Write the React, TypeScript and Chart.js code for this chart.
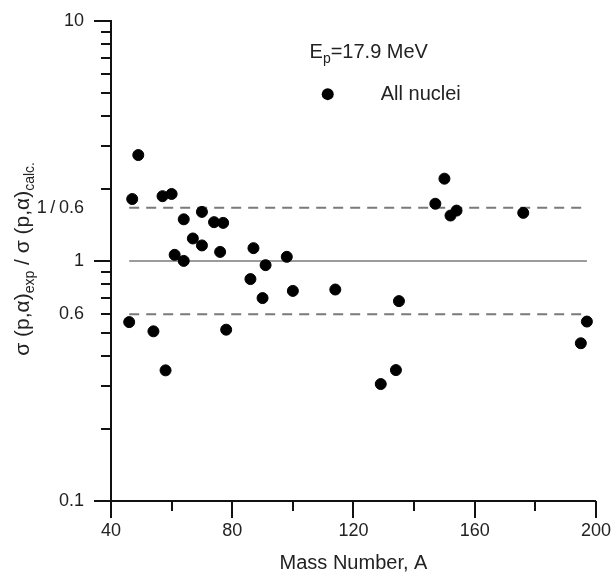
import React, { useEffect, useRef } from "react";
import { Chart, registerables } from "chart.js";

Chart.register(...registerables);

// ---- data ----
const massNumbers = [49, 47, 57, 60, 70, 64, 74, 77, 67, 70, 76, 61, 64, 87, 91, 98, 86, 90, 100, 46, 54, 78, 58, 114, 135, 129, 134, 150, 147, 152, 154, 176, 197, 195];
const ratios = [2.76, 1.81, 1.86, 1.9, 1.6, 1.49, 1.45, 1.44, 1.24, 1.16, 1.09, 1.06, 1.0, 1.13, 0.96, 1.04, 0.84, 0.7, 0.75, 0.556, 0.509, 0.517, 0.35, 0.76, 0.68, 0.307, 0.351, 2.2, 1.73, 1.545, 1.62, 1.585, 0.559, 0.454];

const lowerLimit = 0.6;
const upperLimit = 1 / 0.6;
const unity = 1;
const refLineRange = [46, 197];

const xTickValues = [40, 80, 120, 160, 200];
const yTickValues = [0.1, 0.6, 1, 1 / 0.6, 10];
const yTickLabels = ["0.1", "0.6", "1", "1\u2009/\u20090.6", "10"];

const xTitle = "Mass Number, A";
const energyLabel = { main: "E", sub: "p", rest: "=17.9 MeV", x: 105.5, y: 7.4 };
const legendLabel = { text: "All nuclei", x: 111.5, y: 4.95 };

const FONT = "'Liberation Sans', Arial, sans-serif";
const TEXT = "#222";

const overlayPlugin = {
  id: "overlay",
  afterDraw(chart: any) {
    const { ctx, chartArea, scales } = chart;
    const x = scales.x;
    const y = scales.y;
    ctx.save();
    // tick marks
    ctx.strokeStyle = "#111";
    ctx.lineWidth = 2;
    const xMin = x.min, xMax = x.max;
    for (let v = xMin; v <= xMax + 0.001; v += 20) {
      const px = Math.round(x.getPixelForValue(v));
      const len = (v - xMin) % 40 === 0 ? 17 : 10;
      ctx.beginPath();
      ctx.moveTo(px, chartArea.bottom);
      ctx.lineTo(px, chartArea.bottom + len);
      ctx.stroke();
    }
    for (let dec = y.min; dec < y.max * 0.999; dec *= 10) {
      for (let m = 1; m <= 9; m++) {
        const v = m * dec;
        const py = Math.round(y.getPixelForValue(v));
        const len = m === 1 ? 17 : 10;
        ctx.beginPath();
        ctx.moveTo(chartArea.left, py);
        ctx.lineTo(chartArea.left - len, py);
        ctx.stroke();
      }
    }
    {
      const py = Math.round(y.getPixelForValue(y.max));
      ctx.beginPath();
      ctx.moveTo(chartArea.left, py);
      ctx.lineTo(chartArea.left - 17, py);
      ctx.stroke();
    }

    ctx.fillStyle = TEXT;
    ctx.textBaseline = "middle";
    ctx.textAlign = "left";
    const big = 20;
    const small = 14;

    // y-axis title with subscripts (rotated)
    const segs: [string, boolean][] = [
      ["\u03c3 (p,\u03b1)", false],
      ["exp", true],
      [" / \u03c3 (p,\u03b1)", false],
      ["calc.", true],
    ];
    const tBig = 21;
    let total = 0;
    for (const [t, s] of segs) {
      ctx.font = `${s ? small : tBig}px ${FONT}`;
      total += ctx.measureText(t).width;
    }
    ctx.save();
    ctx.translate(23, (chartArea.top + chartArea.bottom) / 2 - 2);
    ctx.rotate(-Math.PI / 2);
    let cx = -total / 2;
    for (const [t, s] of segs) {
      ctx.font = `${s ? small : tBig}px ${FONT}`;
      ctx.fillText(t, cx, s ? 7 : 0);
      cx += ctx.measureText(t).width;
    }
    ctx.restore();

    // energy annotation
    let ex = x.getPixelForValue(energyLabel.x);
    const ey = y.getPixelForValue(energyLabel.y);
    ctx.font = `${big}px ${FONT}`;
    ctx.fillText(energyLabel.main, ex, ey);
    ex += ctx.measureText(energyLabel.main).width;
    ctx.font = `${small}px ${FONT}`;
    ctx.fillText(energyLabel.sub, ex, ey + 7);
    ex += ctx.measureText(energyLabel.sub).width;
    ctx.font = `${big}px ${FONT}`;
    ctx.fillText(energyLabel.rest, ex, ey);

    // legend
    const lx = x.getPixelForValue(legendLabel.x);
    const ly = y.getPixelForValue(legendLabel.y);
    ctx.fillStyle = "#000";
    ctx.beginPath();
    ctx.arc(lx, ly, 6, 0, Math.PI * 2);
    ctx.fill();
    ctx.fillStyle = TEXT;
    ctx.font = `${big}px ${FONT}`;
    ctx.fillText(legendLabel.text, lx + 53, ly);
    ctx.restore();
  },
};

export default function App() {
  const ref = useRef<HTMLCanvasElement>(null);
  useEffect(() => {
    if (!ref.current) return;
    const points = massNumbers.map((a, i) => ({ x: a, y: ratios[i] }));
    const refLine = (v: number) => refLineRange.map((a) => ({ x: a, y: v }));
    const chart = new Chart(ref.current, {
      type: "scatter",
      data: {
        datasets: [
          {
            label: "All nuclei",
            data: points,
            backgroundColor: "#000",
            borderColor: "#000",
            pointRadius: 5.5,
            order: 0,
          },
          {
            label: "unity",
            data: refLine(unity),
            showLine: true,
            borderColor: "#7a7a7a",
            borderWidth: 1.5,
            pointRadius: 0,
            order: 1,
          },
          {
            label: "upper",
            data: refLine(upperLimit),
            showLine: true,
            borderColor: "#7a7a7a",
            borderWidth: 2,
            borderDash: [10, 7],
            pointRadius: 0,
            order: 1,
          },
          {
            label: "lower",
            data: refLine(lowerLimit),
            showLine: true,
            borderColor: "#7a7a7a",
            borderWidth: 2,
            borderDash: [10, 7],
            pointRadius: 0,
            order: 1,
          },
        ],
      },
      options: {
        animation: false,
        responsive: true,
        maintainAspectRatio: false,
        layout: { padding: { top: 16, right: 17, left: 0, bottom: 0 } },
        plugins: { legend: { display: false }, tooltip: { enabled: false }, title: { display: false } },
        scales: {
          x: {
            type: "linear",
            min: 40,
            max: 200,
            afterBuildTicks: (s: any) => {
              s.ticks = xTickValues.map((v) => ({ value: v }));
            },
            afterFit: (s: any) => {
              s.height = 75;
            },
            ticks: {
              autoSkip: false,
              maxRotation: 0,
              padding: 2,
              color: TEXT,
              font: { family: FONT, size: 18 },
            },
            grid: { display: true, drawOnChartArea: false, tickLength: 17, tickColor: "transparent" },
            border: { display: true, color: "#111", width: 2 },
            title: {
              display: true,
              text: xTitle,
              color: TEXT,
              font: { family: FONT, size: 20 },
              padding: { top: 0, bottom: 1 },
            },
          },
          y: {
            type: "logarithmic",
            min: 0.1,
            max: 10,
            afterBuildTicks: (s: any) => {
              s.ticks = yTickValues.map((v) => ({ value: v }));
            },
            afterFit: (s: any) => {
              s.width = 111;
            },
            ticks: {
              autoSkip: false,
              padding: 10,
              color: TEXT,
              font: { family: FONT, size: 18 },
              callback: (_v: any, i: number) => yTickLabels[i],
            },
            grid: { display: true, drawOnChartArea: false, tickLength: 17, tickColor: "transparent" },
            border: { display: true, color: "#111", width: 2 },
          },
        },
      },
      plugins: [overlayPlugin],
    } as any);
    return () => chart.destroy();
  }, []);
  return (
    <div style={{ position: "fixed", left: 0, top: 0, width: 613, height: 576, background: "#fff" }}>
      <canvas ref={ref} />
    </div>
  );
}
